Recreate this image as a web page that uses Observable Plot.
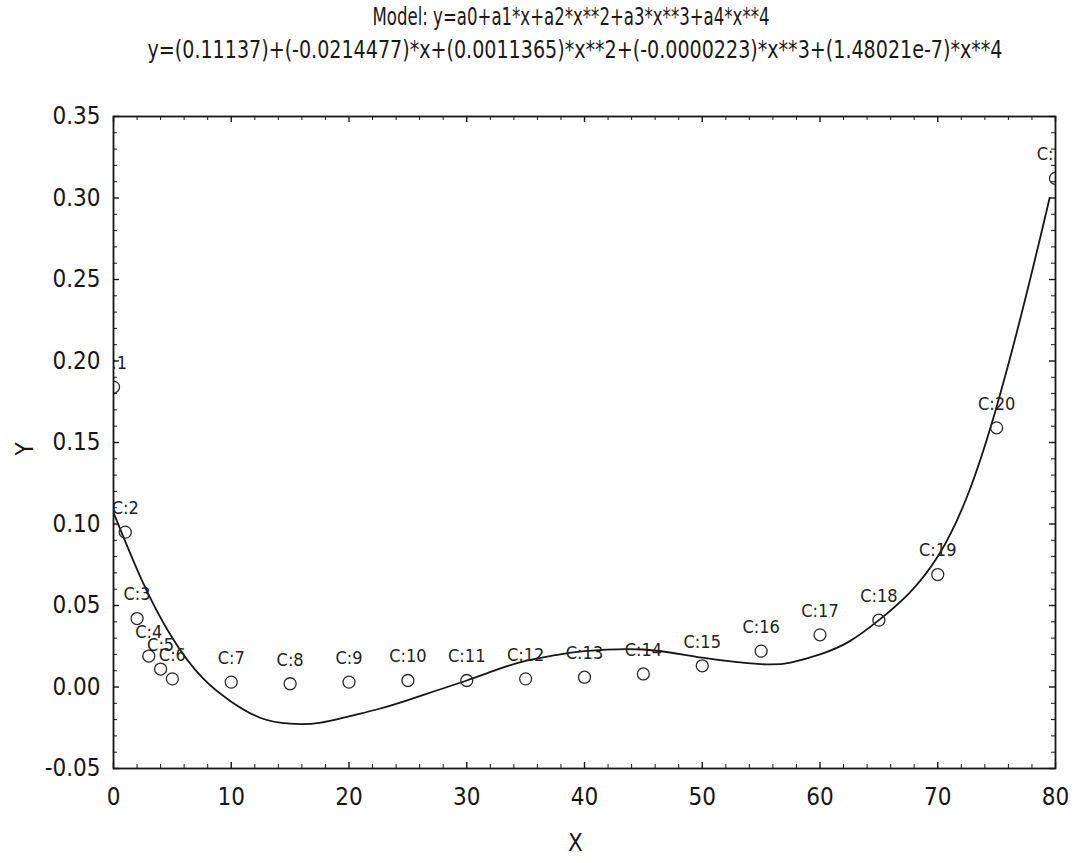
<!DOCTYPE html>
<html><head><meta charset="utf-8">
<script src="https://cdn.jsdelivr.net/npm/d3@7"></script>
<script src="https://cdn.jsdelivr.net/npm/@observablehq/plot@0.6"></script>
<style>
body{margin:0;background:#fff;}
svg{display:block}
#hdr text{font-family:"Liberation Sans Narrow","Arial Narrow","DejaVu Sans Condensed","Liberation Sans",sans-serif;fill:#1a1a1a;}
</style></head><body>
<svg id="hdr" width="1077" height="72">
<text id="t1" x="571" y="25" text-anchor="middle" font-size="24" textLength="397" lengthAdjust="spacingAndGlyphs"></text>
<text id="t2" x="575" y="58" text-anchor="middle" font-size="24" textLength="855" lengthAdjust="spacingAndGlyphs"></text>
</svg>
<div id="chart"></div>
<script>
// ---- data ----
const titleLine1 = "Model: y=a0+a1*x+a2*x**2+a3*x**3+a4*x**4";
const titleLine2 = "y=(0.11137)+(-0.0214477)*x+(0.0011365)*x**2+(-0.0000223)*x**3+(1.48021e-7)*x**4";
const caseLabels = ["C:1","C:2","C:3","C:4","C:5","C:6","C:7","C:8","C:9","C:10","C:11","C:12","C:13","C:14","C:15","C:16","C:17","C:18","C:19","C:20","C:21"];
const caseX = [0,1,2,3,4,5,10,15,20,25,30,35,40,45,50,55,60,65,70,75,80];
const caseY = [0.184,0.095,0.042,0.019,0.011,0.005,0.003,0.002,0.003,0.004,0.004,0.005,0.006,0.008,0.013,0.022,0.032,0.041,0.069,0.159,0.312];
const fitX = [0,2.5,5,7.5,10,12.5,15,17.5,20,22.5,25,27.5,30,32.5,35,37.5,40,45,50,55,57.5,60,62.5,65,67.5,70,72.5,75,77.5,79.5];
const fitY = [0.107,0.064,0.030,0.006,-0.009,-0.019,-0.0225,-0.022,-0.018,-0.0135,-0.008,-0.002,0.004,0.0105,0.016,0.0195,0.022,0.023,0.018,0.014,0.015,0.020,0.028,0.041,0.057,0.080,0.117,0.172,0.240,0.300];
const xMajorTicks = [0,10,20,30,40,50,60,70,80];
const xMinorTicks = [2,4,6,8,12,14,16,18,22,24,26,28,32,34,36,38,42,44,46,48,52,54,56,58,62,64,66,68,72,74,76,78];
const yMajorTicks = [-0.05,0,0.05,0.10,0.15,0.20,0.25,0.30,0.35];
const yMinorTicks = [-0.04,-0.03,-0.02,-0.01,0.01,0.02,0.03,0.04,0.06,0.07,0.08,0.09,0.11,0.12,0.13,0.14,0.16,0.17,0.18,0.19,0.21,0.22,0.23,0.24,0.26,0.27,0.28,0.29,0.31,0.32,0.33,0.34];
const xLabel = "X", yLabel = "Y";

document.getElementById("t1").textContent = titleLine1;
document.getElementById("t2").textContent = titleLine2;

const cases = caseX.map((x, i) => ({x, y: caseY[i], label: caseLabels[i]}));
const fit = fitX.map((x, i) => ({x, y: fitY[i]}));

const FONT = '"Liberation Sans Narrow","Arial Narrow","DejaVu Sans Condensed","Liberation Sans",sans-serif';
const W = 1077, H = 791, mT = 44, mB = 95, mL = 113, mR = 22;
const FH = H - mT - mB, FW = W - mL - mR;
const ink = "#161616";

const chart = Plot.plot({
  width: W, height: H,
  marginTop: mT, marginBottom: mB, marginLeft: mL, marginRight: mR,
  style: {fontFamily: FONT, background: "#fff", color: ink},
  x: {domain: [0, 80]},
  y: {domain: [-0.05, 0.35]},
  marks: [
    Plot.axisX(xMajorTicks, {tickSize: 0, tickPadding: 19, fontSize: 24, label: null, fill: ink}),
    Plot.axisY(yMajorTicks, {tickSize: 0, tickPadding: 13, fontSize: 24, label: null, fill: ink, tickFormat: d => d.toFixed(2)}),
    Plot.tickX(xMinorTicks, {x: d => d, insetTop: FH - 4, stroke: ink}),
    Plot.tickX(xMinorTicks, {x: d => d, insetBottom: FH - 4, stroke: ink}),
    Plot.tickX(xMajorTicks, {x: d => d, insetTop: FH - 6, stroke: ink, strokeWidth: 1.4}),
    Plot.tickX(xMajorTicks, {x: d => d, insetBottom: FH - 6, stroke: ink, strokeWidth: 1.4}),
    Plot.tickY(yMinorTicks, {y: d => d, insetRight: FW - 4, stroke: ink}),
    Plot.tickY(yMinorTicks, {y: d => d, insetLeft: FW - 4, stroke: ink}),
    Plot.tickY(yMajorTicks, {y: d => d, insetRight: FW - 6, stroke: ink, strokeWidth: 1.4}),
    Plot.tickY(yMajorTicks, {y: d => d, insetLeft: FW - 6, stroke: ink, strokeWidth: 1.4}),
    Plot.line(fit, {x: "x", y: "y", curve: "natural", stroke: ink, strokeWidth: 1.8, clip: true}),
    Plot.dot(cases, {x: "x", y: "y", r: 6, stroke: "#2a2a2a", strokeWidth: 1.3, fill: "none", clip: true}),
    Plot.text(cases, {x: "x", y: "y", text: "label", dy: -24, fontSize: 18, fill: "#222", clip: true}),
    Plot.frame({stroke: ink, strokeWidth: 1.8}),
    Plot.text([xLabel], {frameAnchor: "bottom", dy: 82, dx: -9, fontSize: 24, fill: ink}),
    Plot.text([yLabel], {frameAnchor: "left", dx: -88, dy: 13, rotate: -90, fontSize: 24, fill: ink})
  ]
});
document.getElementById("chart").appendChild(chart);
</script>
</body></html>
